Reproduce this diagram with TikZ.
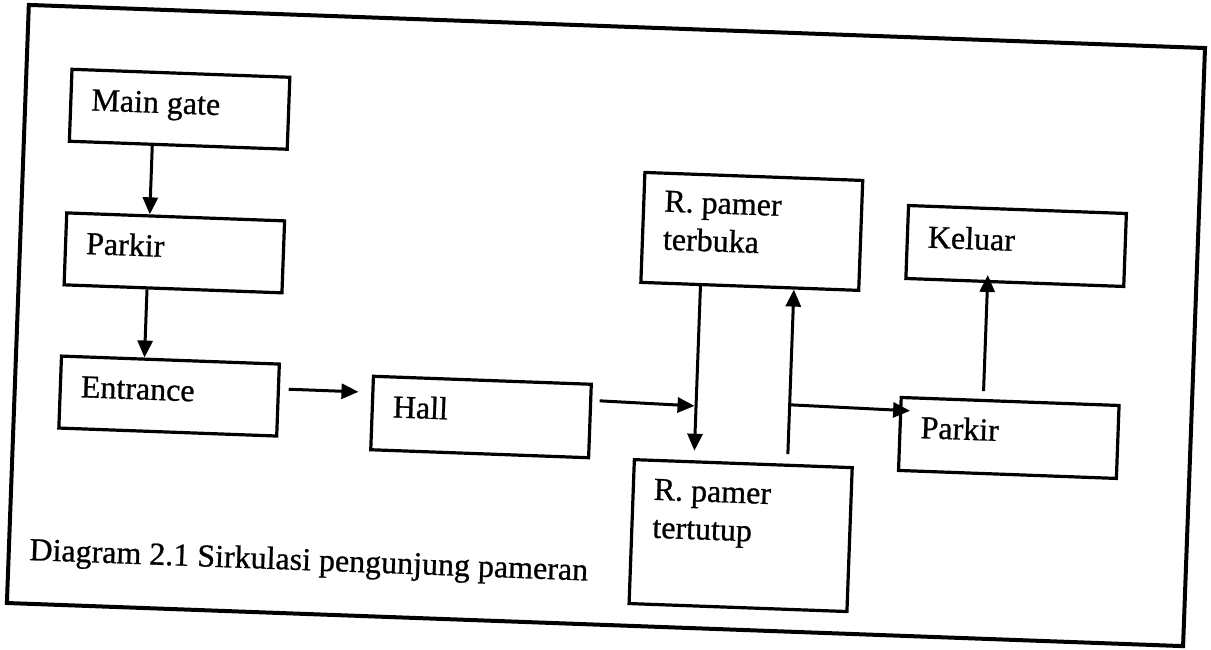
\documentclass[tikz,border=0pt]{standalone}
\usepackage{fontspec}
\setmainfont{Liberation Serif}
\newfontfamily\lblfont{Liberation Serif}[FakeBold=0.8]
\usetikzlibrary{arrows.meta,calc}
\begin{document}
\begin{tikzpicture}[x=1pt,y=1pt,
  box/.style={draw=black, line width=3.2pt, rectangle, inner sep=0pt, minimum width=218pt},
  lbl/.style={inner sep=0pt, anchor=base west, font=\lblfont\fontsize{32}{38}\selectfont},
  flow/.style={line width=3pt, -{Triangle[length=17pt,width=15pt]}},
  frameline/.style={line width=4pt}]
\useasboundingbox (-605.5,-324.5) rectangle (605.5,324.5);
\begin{scope}[rotate=-2.1, transform shape]
  % outer frame
  \draw[frameline] (-588,-300.25) rectangle (589,298.25);
  % boxes
  \node[box, minimum height=72pt]  (mg)   at (-433.5,199.5) {};
  \node[box, minimum height=72pt]  (pk1)  at (-433.5,55.8) {};
  \node[box, minimum height=72pt]  (ent)  at (-433.5,-87.5) {};
  \node[box, minimum height=73.5pt] (hall) at (-121,-97) {};
  \node[box, minimum height=110pt] (terb) at (142.8,98.4) {};
  \node[box, minimum height=144pt] (tert) at (142.8,-206) {};
  \node[box, minimum height=73pt]  (kel)  at (407.5,93.5) {};
  \node[box, minimum height=73pt]  (pk2)  at (407.2,-98.6) {};
  % labels
  \node[lbl] (tmg)   at ($(mg.north west)+(22,-42)$)   {Main gate};
  \node[lbl] (tpk1)  at ($(pk1.north west)+(22,-42)$)  {Parkir};
  \node[lbl] (tent)  at ($(ent.north west)+(22,-42)$)  {Entrance};
  \node[lbl] (thall) at ($(hall.north west)+(22,-42)$) {Hall};
  \node[lbl] (tterb) at ($(terb.north west)+(22,-40)$) {\vtop{\hbox{R. pamer}\hbox{terbuka}}};
  \node[lbl] (ttert) at ($(tert.north west)+(22,-41)$) {\vtop{\hbox{R. pamer}\hbox{tertutup}}};
  \node[lbl] (tkel)  at ($(kel.north west)+(22,-43)$)  {Keluar};
  \node[lbl] (tpk2)  at ($(pk2.north west)+(22,-41.5)$) {Parkir};
  \node[lbl] (cap)   at (-567.5,-256.5) {Diagram 2.1 Sirkulasi pengunjung pameran};
  % junction points
  \coordinate (j1) at ($(terb.south)+(-50.8,-119.9)$);
  \coordinate (j2) at ($(tert.north)+(44.2,58.9)$);
  % connectors
  \draw[flow] ($(mg.south)+(-26,0)$) -- ($(pk1.north)+(-26,0)$);
  \draw[flow] ($(pk1.south)+(-26,0)$) -- ($(ent.north)+(-26,0)$);
  \draw[flow] ($(ent.east)+(8.7,11.2)$) -- ($(hall.west)+(-12.8,20.6)$);
  \draw[flow] ($(hall.east)+(7.4,20.5)$) -- (j1);
  \draw[flow] ($(terb.south)+(-49.3,0)$) -- ($(tert.north)+(-49.3,9.5)$);
  \draw[flow] ($(tert.north)+(44.2,9.5)$) -- ($(terb.south)+(44.2,0)$);
  \draw[flow] (j2) -- ($(pk2.west)+(11,23.5)$);
  \draw[flow] ($(pk2.north)+(-26.9,7.8)$) -- ($(kel.south)+(-27.2,8.1)$);
\end{scope}
\end{tikzpicture}
\end{document}
